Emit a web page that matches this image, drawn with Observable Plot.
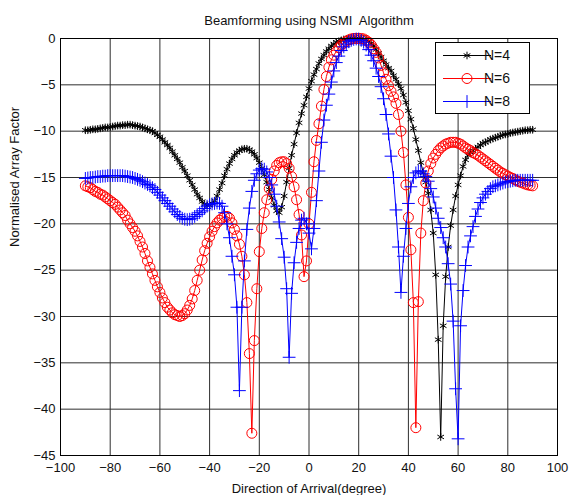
<!DOCTYPE html>
<html>
<head>
<meta charset="utf-8">
<script src="https://cdn.jsdelivr.net/npm/d3@7"></script>
<script src="https://cdn.jsdelivr.net/npm/@observablehq/plot@0.6"></script>
<style>
  body { margin: 0; background: #fff; }
  #chart { width: 570px; height: 495px; }
</style>
</head>
<body>
<div id="chart"></div>
<script>
// Direction of arrival samples (degrees), -90 .. 90 in 1-degree steps
const angles = d3.range(-90, 91);

// Normalised array factor (dB)
const n4 = [
  -9.9,-9.9,-9.85,-9.8,-9.8,-9.75,-9.7,-9.65,-9.6,-9.6,
  -9.55,-9.5,-9.45,-9.4,-9.4,-9.35,-9.35,-9.3,-9.3,-9.35,
  -9.4,-9.45,-9.5,-9.6,-9.7,-9.8,-9.9,-10.0,-10.2,-10.4,
  -10.6,-10.9,-11.2,-11.5,-11.8,-12.2,-12.6,-13.0,-13.4,-13.9,
  -14.3,-14.8,-15.3,-15.8,-16.3,-16.8,-17.2,-17.6,-17.9,-18.0,
  -18.0,-17.8,-17.5,-17.0,-16.3,-15.6,-14.8,-14.1,-13.5,-13.0,
  -12.6,-12.3,-12.1,-11.95,-11.9,-11.9,-12.0,-12.2,-12.5,-12.9,
  -13.4,-14.0,-14.7,-15.5,-16.3,-17.2,-18.0,-18.6,-18.8,-18.2,
  -17.0,-15.5,-14.0,-12.6,-11.4,-10.2,-9.1,-8.1,-7.2,-6.3,
  -5.4,-4.6,-3.9,-3.3,-2.7,-2.2,-1.8,-1.4,-1.1,-0.8,
  -0.6,-0.4,-0.3,-0.2,-0.1,-0.05,0,0,0,0,
  0,0,-0.05,-0.15,-0.3,-0.5,-0.8,-1.2,-1.6,-2.0,
  -2.4,-2.8,-3.2,-3.5,-4.0,-4.4,-4.9,-5.4,-6.1,-6.9,
  -7.8,-8.7,-9.7,-10.9,-12.1,-13.4,-14.5,-15.5,-16.7,-18.5,
  -21.0,-25.5,-32.5,-43.0,-31.0,-25.7,-22.5,-20.2,-18.5,-17.0,
  -15.8,-14.8,-13.8,-13.1,-12.6,-12.3,-12.1,-11.9,-11.7,-11.5,
  -11.3,-11.2,-11.05,-10.9,-10.8,-10.7,-10.6,-10.5,-10.4,-10.35,
  -10.3,-10.2,-10.15,-10.1,-10.05,-10.0,-9.95,-9.9,-9.9,-9.85,-9.85
];
const n6 = [
  -15.9,-16.0,-16.1,-16.3,-16.5,-16.6,-16.8,-16.9,-17.1,-17.3,
  -17.5,-17.7,-17.9,-18.2,-18.5,-18.8,-19.1,-19.6,-20.0,-20.4,
  -20.8,-21.3,-21.9,-22.5,-23.2,-24.0,-24.7,-25.4,-26.1,-26.8,
  -27.4,-28.0,-28.5,-29.0,-29.3,-29.6,-29.8,-29.9,-30.0,-29.9,
  -29.7,-29.3,-28.8,-28.1,-27.2,-26.1,-25.0,-23.9,-22.9,-22.1,
  -21.4,-20.8,-20.3,-19.9,-19.6,-19.4,-19.2,-19.2,-19.4,-19.9,
  -20.6,-21.3,-22.2,-23.5,-25.5,-28.5,-34.0,-42.6,-32.6,-27.0,
  -23.0,-20.5,-18.8,-17.4,-16.2,-15.2,-14.3,-13.7,-13.4,-13.3,
  -13.3,-13.5,-14.0,-14.9,-16.0,-17.4,-19.0,-21.2,-25.7,-24.0,
  -20.0,-16.6,-13.3,-11.0,-9.2,-7.3,-5.5,-4.1,-3.1,-2.3,
  -1.8,-1.4,-1.0,-0.7,-0.5,-0.3,-0.15,-0.05,0,0,
  0,0,-0.05,-0.2,-0.4,-0.7,-1.1,-1.5,-2.1,-2.9,
  -3.7,-4.4,-5.1,-5.7,-6.3,-7.0,-8.2,-10.0,-12.3,-15.8,
  -19.3,-22.8,-28.5,-42.0,-28.4,-21.0,-17.5,-15.6,-14.3,-13.5,
  -12.9,-12.5,-12.1,-11.8,-11.6,-11.4,-11.3,-11.2,-11.2,-11.2,
  -11.3,-11.4,-11.6,-11.8,-11.95,-12.1,-12.3,-12.45,-12.6,-12.8,
  -13.0,-13.2,-13.4,-13.6,-13.8,-14.0,-14.2,-14.4,-14.55,-14.7,
  -14.85,-15.0,-15.1,-15.25,-15.4,-15.5,-15.6,-15.7,-15.8,-15.85,-15.9
];
const n8 = [
  -15.1,-15.05,-15.0,-15.0,-14.95,-14.9,-14.9,-14.85,-14.85,-14.8,
  -14.8,-14.8,-14.8,-14.8,-14.8,-14.8,-14.85,-14.9,-14.95,-15.0,
  -15.1,-15.2,-15.3,-15.45,-15.6,-15.75,-15.9,-16.1,-16.3,-16.6,
  -16.9,-17.2,-17.5,-17.8,-18.1,-18.4,-18.7,-19.0,-19.2,-19.4,
  -19.5,-19.55,-19.5,-19.4,-19.2,-19.0,-18.8,-18.6,-18.35,-18.1,
  -17.95,-17.85,-17.8,-17.75,-17.8,-18.1,-18.8,-20.0,-21.5,-23.5,
  -25.5,-29.0,-38.0,-29.0,-24.0,-20.6,-18.3,-16.5,-15.3,-14.6,
  -14.2,-14.05,-14.1,-14.4,-15.0,-15.8,-16.8,-18.1,-19.8,-21.6,
  -23.6,-27.0,-34.4,-27.5,-24.2,-22.0,-20.5,-19.6,-19.4,-20.0,
  -21.0,-22.7,-20.5,-17.5,-14.3,-11.2,-8.8,-7.2,-6.0,-4.7,
  -3.5,-2.6,-1.9,-1.3,-0.9,-0.6,-0.35,-0.2,-0.1,-0.05,
  -0.05,-0.2,-0.4,-0.7,-1.2,-1.8,-2.4,-3.2,-4.1,-5.2,
  -6.5,-8.2,-10.3,-12.7,-15.0,-18.5,-22.5,-27.4,-23.5,-20.5,
  -17.8,-16.0,-15.0,-14.5,-14.3,-14.3,-14.6,-14.9,-15.4,-16.2,
  -17.1,-18.3,-19.4,-20.4,-21.5,-22.5,-24.3,-26.5,-30.5,-37.8,
  -43.2,-31.0,-27.2,-24.5,-22.5,-21.3,-20.3,-19.2,-18.4,-17.7,
  -17.2,-16.8,-16.5,-16.2,-16.0,-15.9,-15.8,-15.7,-15.6,-15.5,
  -15.45,-15.4,-15.35,-15.3,-15.3,-15.3,-15.3,-15.3,-15.3,-15.3,-15.3
];

const seriesNames = ["N=4", "N=6", "N=8"];
const seriesColors = ["#000000", "#ff0000", "#0000ff"];
const seriesSymbols = ["asterisk", "circle", "plus"];
const seriesValues = [n4, n6, n8];

const xTicks = [-100, -80, -60, -40, -20, 0, 20, 40, 60, 80, 100];
const yTicks = [0, -5, -10, -15, -20, -25, -30, -35, -40, -45];

const titleText = "Beamforming using NSMI  Algorithm";
const xLabel = "Direction of Arrival(degree)";
const yLabel = "Normalised Array Factor";

const rows = [];
seriesValues.forEach((vals, s) => {
  vals.forEach((v, i) => rows.push({series: seriesNames[s], angle: angles[i], af: v}));
});

const font = "'Liberation Sans', Arial, Helvetica, sans-serif";
const symbolR = {"N=4": 3.6, "N=6": 5, "N=8": 4.2};

const seriesMarks = seriesNames.flatMap((name, s) => {
  const data = rows.filter(d => d.series === name);
  return [
    Plot.line(data, {x: "angle", y: "af", stroke: seriesColors[s], strokeWidth: 1}),
    Plot.dot(data, {x: "angle", y: "af", stroke: seriesColors[s], fill: "none",
      symbol: seriesSymbols[s], r: symbolR[name], strokeWidth: 1})
  ];
});

const chart = Plot.plot({
  width: 570,
  height: 495,
  marginLeft: 60,
  marginRight: 13,
  marginTop: 38,
  marginBottom: 40,
  style: {fontFamily: font, fontSize: "13px", color: "#111", background: "#fff"},
  x: {domain: [-100, 100]},
  y: {domain: [-45, 0]},
  marks: [
    Plot.gridX(xTicks, {stroke: "#2e2e2e", strokeOpacity: 1, strokeWidth: 1}),
    Plot.gridY(yTicks, {stroke: "#2e2e2e", strokeOpacity: 1, strokeWidth: 1}),
    Plot.axisX(xTicks, {tickSize: 0, tickPadding: 7, label: null, fontSize: 13}),
    Plot.axisY(yTicks, {tickSize: 0, tickPadding: 5, label: null, fontSize: 13}),
    ...seriesMarks,
    Plot.frame({stroke: "#000", strokeWidth: 1}),
    Plot.text([titleText], {frameAnchor: "top", dy: -18, lineAnchor: "middle", fontSize: 13, fill: "#111"}),
    Plot.text([xLabel], {frameAnchor: "bottom", dy: 33, lineAnchor: "middle", fontSize: 13, fill: "#111"}),
    Plot.text([yLabel], {frameAnchor: "left", dx: -46, rotate: -90, lineAnchor: "middle", fontSize: 13, fill: "#111"})
  ]
});

document.getElementById("chart").appendChild(chart);

// Legend box (top-right, inside the axes)
const svg = d3.select(chart);
const lg = svg.append("g").attr("font-family", font).attr("font-size", 14);
lg.append("rect").attr("x", 435.5).attr("y", 42.5).attr("width", 94).attr("height", 71)
  .attr("fill", "#fff").attr("stroke", "#000").attr("stroke-width", 1);
const symType = {asterisk: d3.symbolAsterisk, circle: d3.symbolCircle, plus: d3.symbolPlus};
seriesNames.forEach((name, s) => {
  const y = 55.5 + s * 23;
  lg.append("line").attr("x1", 443).attr("x2", 491).attr("y1", y).attr("y2", y)
    .attr("stroke", seriesColors[s]).attr("stroke-width", 1);
  const r = symbolR[name];
  lg.append("path").attr("d", d3.symbol(symType[seriesSymbols[s]], Math.PI * r * r)())
    .attr("transform", `translate(467,${y})`).attr("fill", "none")
    .attr("stroke", seriesColors[s]).attr("stroke-width", 1);
  lg.append("text").attr("x", 497).attr("y", y).attr("dy", "0.35em").attr("fill", "#111").text(name);
});
</script>
</body>
</html>
